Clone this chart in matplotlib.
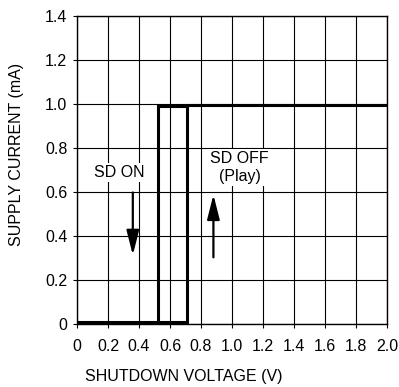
import numpy as np
import matplotlib
matplotlib.use("Agg")
import matplotlib.pyplot as plt

plt.rcParams['font.family'] = ['Liberation Sans', 'DejaVu Sans']

# hysteresis trace (shutdown voltage in V, supply current in mA)
sd_off_v = [0.0, 0.71, 0.71, 1.2, 2.0]
sd_off_i = [0.01, 0.01, 0.995, 0.995, 0.995]
sd_on_v = [0.52, 0.52, 0.71]
sd_on_i = [0.01, 0.99, 0.99]

x_ticks = [0, 0.2, 0.4, 0.6, 0.8, 1.0, 1.2, 1.4, 1.6, 1.8, 2.0]
x_labels = ['0', '0.2', '0.4', '0.6', '0.8', '1.0', '1.2', '1.4', '1.6', '1.8', '2.0']
y_ticks = [0, 0.2, 0.4, 0.6, 0.8, 1.0, 1.2, 1.4]
y_labels = ['0', '0.2', '0.4', '0.6', '0.8', '1.0', '1.2', '1.4']

fs = 11.5

fig = plt.figure(figsize=(3.99, 3.87), dpi=100)
ax = fig.add_axes([0.193, 0.163, 0.777, 0.796])

ax.plot(sd_off_v, sd_off_i, color='black', lw=2.2, solid_joinstyle='miter', zorder=3)
ax.plot(sd_on_v, sd_on_i, color='black', lw=2.2, solid_joinstyle='miter', zorder=3)

ax.set_xlim(0, 2.0)
ax.set_ylim(0, 1.4)
ax.set_xticks(x_ticks)
ax.set_xticklabels(x_labels)
ax.set_yticks(y_ticks)
ax.set_yticklabels(y_labels)
ax.tick_params(labelsize=fs, length=3, width=0.8, color='black', pad=4)
ax.tick_params(axis='x', pad=8)
ax.grid(True, color='black', lw=0.8)
ax.set_axisbelow(True)
for s in ax.spines.values():
    s.set_linewidth(1.0)

ax.set_xlabel('SHUTDOWN VOLTAGE (V)', fontsize=fs)
ax.set_ylabel('SUPPLY CURRENT (mA)', fontsize=fs)
ax.xaxis.set_label_coords(0.345, -0.145)
ax.yaxis.set_label_coords(-0.17, 0.55)

box = dict(facecolor='white', edgecolor='none', pad=1.5)
ax.text(0.27, 0.69, 'SD ON', fontsize=fs, ha='center', va='center', bbox=box, zorder=4)
ax.text(1.05, 0.71, 'SD OFF\n(Play)', fontsize=fs, ha='center', va='center',
        linespacing=1.2, bbox=box, zorder=4)

arrow = dict(arrowstyle='-|>,head_width=0.38,head_length=1.5', color='black', lw=1.6)
ax.annotate('', xy=(0.36, 0.30), xytext=(0.36, 0.61), arrowprops=arrow, zorder=4)
ax.annotate('', xy=(0.88, 0.60), xytext=(0.88, 0.29), arrowprops=arrow, zorder=4)

fig.savefig('out.png', dpi=100)
